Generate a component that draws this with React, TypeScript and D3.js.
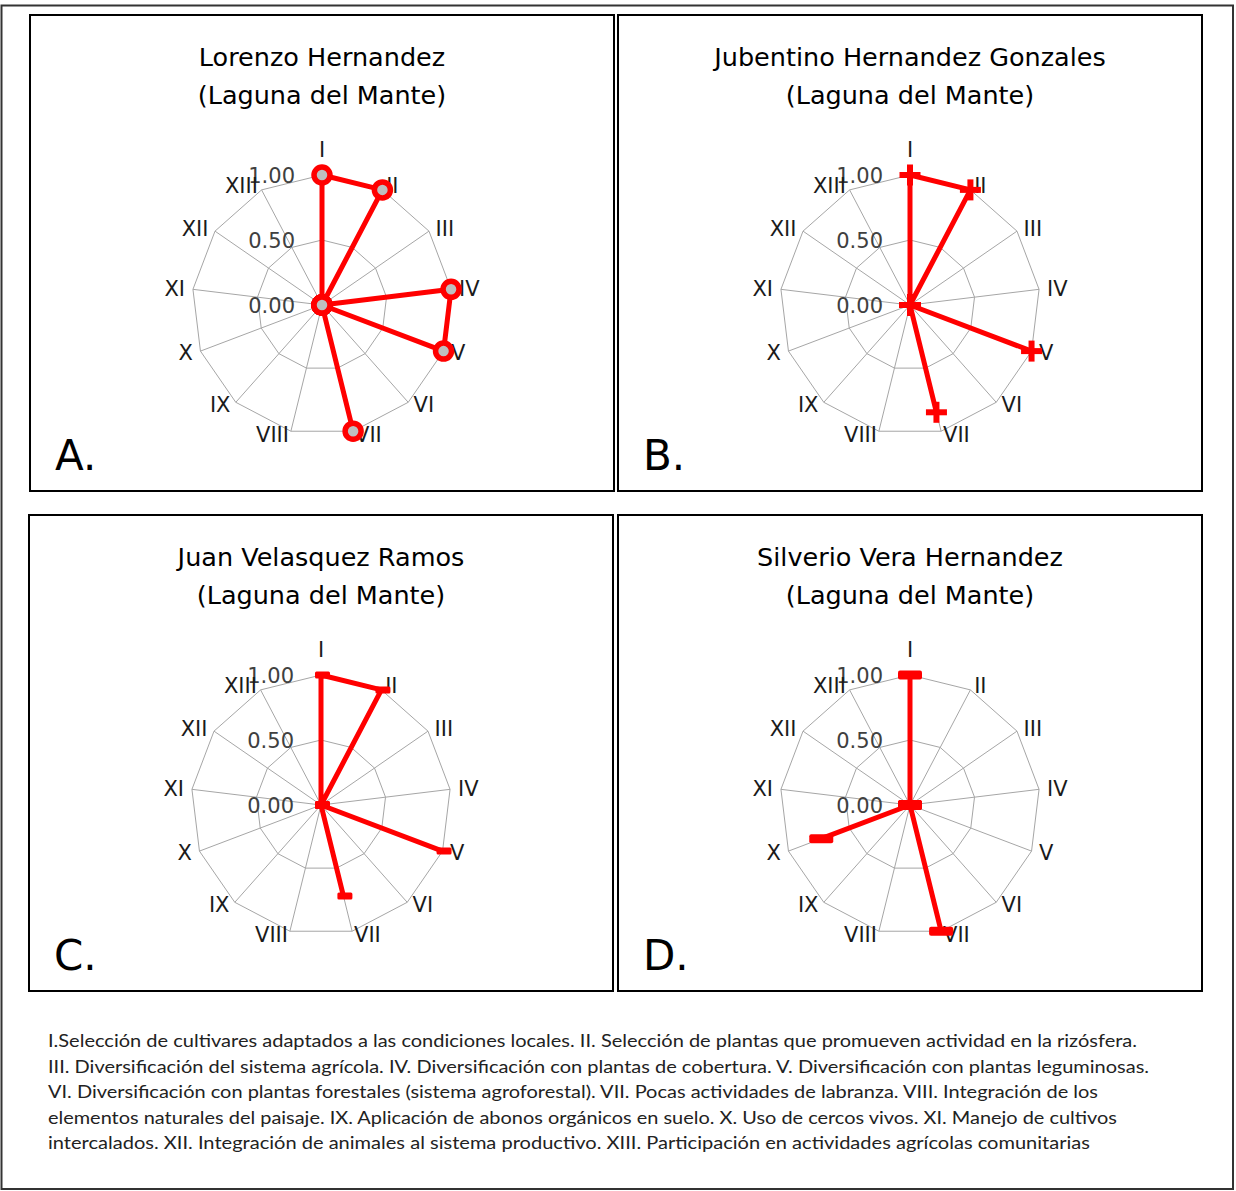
import React from 'react'
import * as d3 from 'd3'

const categories = ['I', 'II', 'III', 'IV', 'V', 'VI', 'VII', 'VIII', 'IX', 'X', 'XI', 'XII', 'XIII']
const ticks = [0, 0.5, 1]

const titlesA = ['Lorenzo Hernandez', '(Laguna del Mante)']
const titlesB = ['Jubentino Hernandez Gonzales', '(Laguna del Mante)']
const titlesC = ['Juan Velasquez Ramos', '(Laguna del Mante)']
const titlesD = ['Silverio Vera Hernandez', '(Laguna del Mante)']

const valuesA = [1, 1, 0, 1, 1, 0, 1, 0, 0, 0, 0, 0, 0]
const valuesB = [1, 1, 0, 0, 1, 0, 0.85, 0, 0, 0, 0, 0, 0]
const valuesC = [1, 1, 0, 0, 1, 0, 0.72, 0, 0, 0, 0, 0, 0]
const valuesD = [1, 0, 0, 0, 0, 0, 1, 0, 0, 0.73, 0, 0, 0]

const letters = ['A.', 'B.', 'C.', 'D.']

const captionLines = [
  'I.Selección de cultivares adaptados a las condiciones locales. II. Selección de plantas que promueven actividad en la rizósfera.',
  'III. Diversificación del sistema agrícola. IV. Diversificación con plantas de cobertura. V. Diversificación con plantas leguminosas.',
  'VI. Diversificación con plantas forestales (sistema agroforestal). VII. Pocas actividades de labranza. VIII. Integración de los',
  'elementos naturales del paisaje. IX. Aplicación de abonos orgánicos en suelo. X. Uso de cercos vivos. XI. Manejo de cultivos',
  'intercalados. XII. Integración de animales al sistema productivo. XIII. Participación en actividades agrícolas comunitarias'
]
const captionWidths = [1089, 1101, 1050, 1069, 1042]

const panels = [
  {x: 30, y: 15, titles: titlesA, values: valuesA, marker: 'circle'},
  {x: 618, y: 15, titles: titlesB, values: valuesB, marker: 'plus'},
  {x: 29, y: 515, titles: titlesC, values: valuesC, marker: 'dash'},
  {x: 618, y: 515, titles: titlesD, values: valuesD, marker: 'widedash'}
]

const W = 1236
const H = 1191
const PW = 584
const PH = 476
const R = 130
const RED = '#ff0000'
const GRID = '#a6a6a6'
const FONT = '"DejaVu Sans", sans-serif'
const LABEL_SIZE = 21

const n = categories.length
const angle = d3.scaleLinear().domain([0, n]).range([0, 2 * Math.PI])
const radius = d3.scaleLinear().domain([0, 1]).range([0, R])

const pt = (i: number, v: number): [number, number] => {
  const a = angle(i)
  return [radius(v) * Math.sin(a), -radius(v) * Math.cos(a)]
}

// rough roman numeral width in DejaVu Sans
const labelWidth = (s: string) =>
  s.split('').reduce((w, ch) => w + (ch === 'I' ? 0.295 : 0.685), 0) * LABEL_SIZE

const Marker = ({kind, x, y}: {kind: string, x: number, y: number}) => {
  if (kind === 'circle') {
    return <circle cx={x} cy={y} r={8} fill="#bfbfbf" stroke={RED} strokeWidth={5.5}/>
  }
  if (kind === 'plus') {
    return (
      <g fill={RED}>
        <rect x={x - 10.5} y={y - 3} width={21} height={6}/>
        <rect x={x - 3} y={y - 10.5} width={6} height={21}/>
      </g>
    )
  }
  if (kind === 'dash') {
    return <rect x={x - 6} y={y - 3.5} width={15} height={7} rx={1.5} fill={RED}/>
  }
  return <rect x={x - 12} y={y - 4.5} width={24} height={9} rx={2} fill={RED}/>
}

const Radar = ({values, marker}: {values: number[], marker: string}) => {
  const ring = (v: number) => d3.line()(categories.map((c, i) => pt(i, v))) + 'Z'
  const dataPath = d3.lineRadial<number>()
    .angle((d, i) => angle(i))
    .radius(d => radius(d))
    .curve(d3.curveLinearClosed)(values)

  return (
    <g>
      {ticks.filter(t => t > 0).map(t => (
        <path key={t} d={ring(t)} fill="none" stroke={GRID} strokeWidth={1}/>
      ))}
      {categories.map((c, i) => {
        const [x, y] = pt(i, 1)
        return <line key={c} x1={0} y1={0} x2={x} y2={y} stroke={GRID} strokeWidth={1}/>
      })}
      {ticks.map(t => (
        <text key={t} x={-27} y={-radius(t) + 1} textAnchor="end" dominantBaseline="central"
          fontSize={21} fontFamily={FONT} fill="#404040">{t.toFixed(2)}</text>
      ))}
      {categories.map((c, i) => {
        const a = angle(i)
        const s = Math.sin(a)
        const sg = Math.abs(s) < 0.05 ? 0 : Math.sign(s)
        const x = s * (R + 8) + sg * labelWidth(c) / 2
        const y = -Math.cos(a) * 134 - (i === 0 ? 21 : 0)
        return (
          <text key={c} x={x} y={y} textAnchor="middle" dominantBaseline="central"
            fontSize={LABEL_SIZE} fontFamily={FONT} fill="#1a1a1a">{c}</text>
        )
      })}
      <path d={dataPath || ''} fill="none" stroke={RED} strokeWidth={5} strokeLinejoin="round"/>
      {values.map((v, i) => {
        const [x, y] = pt(i, v)
        return <Marker key={i} kind={marker} x={x} y={y}/>
      })}
    </g>
  )
}

const App = () => {
  return (
    <svg width={W} height={H} style={{position: 'absolute', left: 0, top: 0, background: '#fff'}}>
      <rect x={1.5} y={5.5} width={1231.5} height={1183.5} fill="#fff" stroke="#333" strokeWidth={2}/>
      {panels.map((p, k) => (
        <g key={k} transform={`translate(${p.x},${p.y})`}>
          <rect x={0} y={0} width={PW} height={PH} fill="#fff" stroke="#000" strokeWidth={2}/>
          {p.titles.map((t, j) => (
            <text key={j} x={PW / 2} y={42 + j * 38} textAnchor="middle" dominantBaseline="central"
              fontSize={25.5} fontFamily={FONT} fill="#000">{t}</text>
          ))}
          <g transform={`translate(${PW / 2},290)`}>
            <Radar values={p.values} marker={p.marker}/>
          </g>
          <text x={25} y={455} fontSize={42} fontFamily={FONT} fill="#000">{letters[k]}</text>
        </g>
      ))}
      {captionLines.map((l, i) => (
        <text key={i} x={48} y={1040 + i * 25.5} dominantBaseline="central" fontSize={18}
          fontFamily="Lato, sans-serif" fill="#222" textLength={captionWidths[i]}
          lengthAdjust="spacingAndGlyphs">{l}</text>
      ))}
    </svg>
  )
}

export default App
